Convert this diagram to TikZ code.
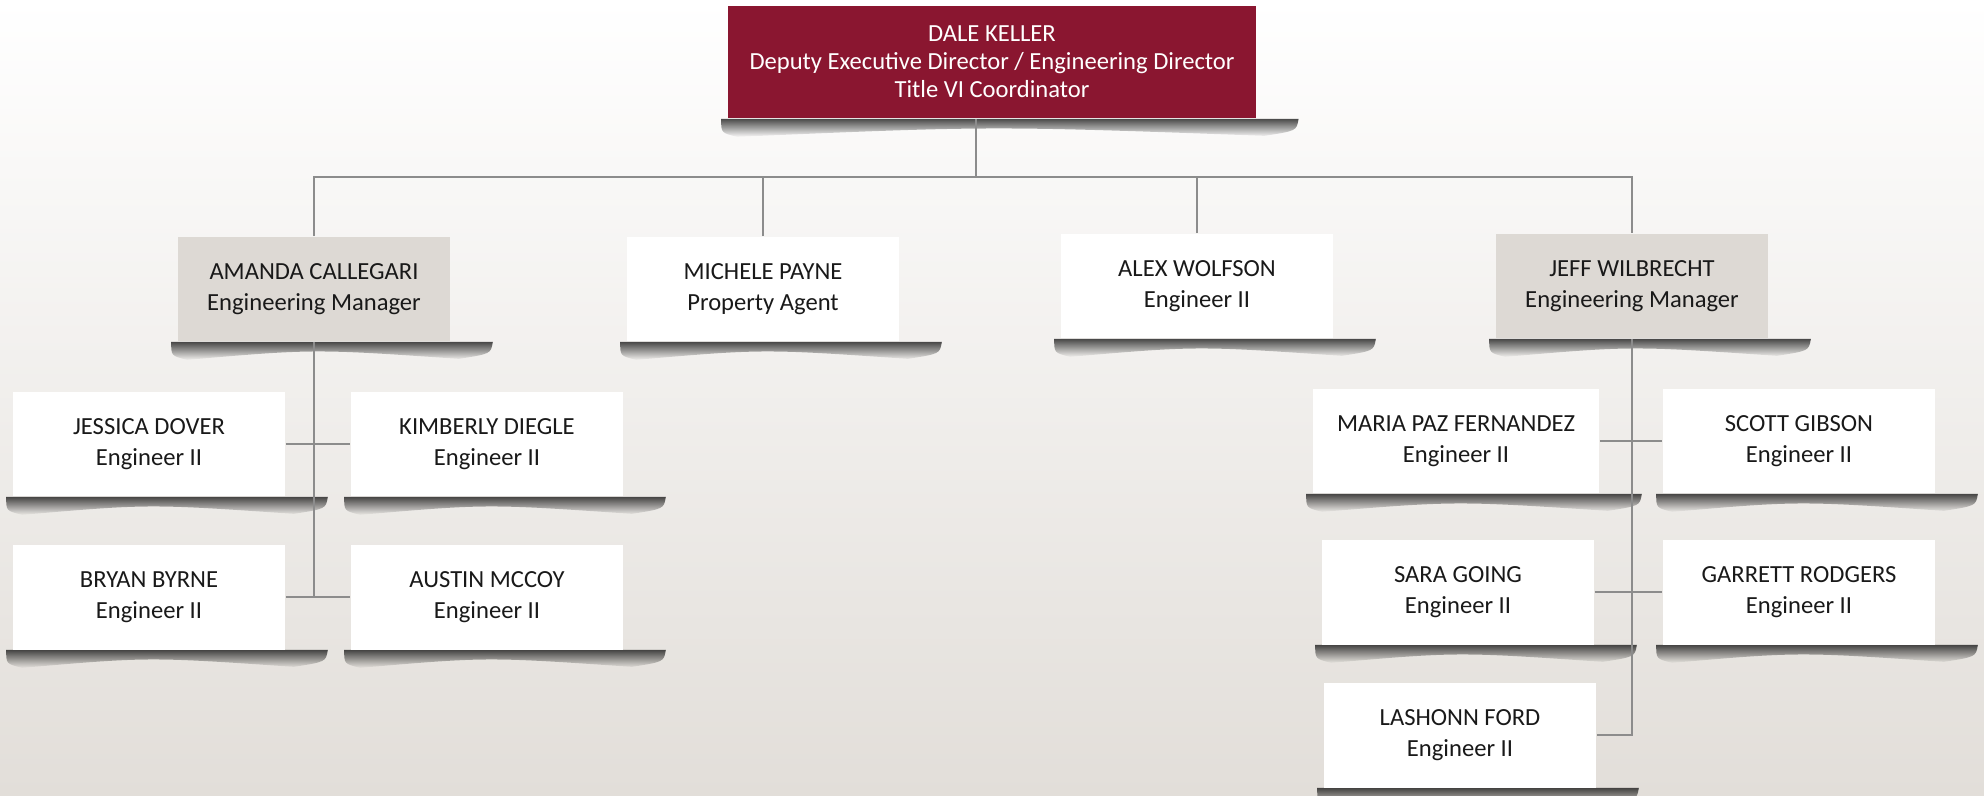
\documentclass[tikz,border=0pt]{standalone}
\usepackage{fontspec}
\setmainfont{Carlito}
\usetikzlibrary{backgrounds,fadings,calc}
\definecolor{maroon}{RGB}{138,22,48}
\definecolor{mgrgray}{RGB}{221,217,212}
\definecolor{linkgray}{RGB}{140,140,140}
\definecolor{bgbottom}{RGB}{226,222,217}
\tikzfading[name=shadowfade, top color=transparent!30, bottom color=transparent!100]

\begin{document}
\begin{tikzpicture}[x=0.02cm, y=-0.02cm,
  every node/.style={font=\fontsize{14}{17.5}\selectfont, align=center, inner sep=0pt, text=black!90},
  staff/.style={rectangle, fill=white, minimum width=5.46cm, minimum height=2.1cm},
  manager/.style={staff, fill=mgrgray},
  director/.style={rectangle, fill=maroon, text=white, minimum width=10.58cm, minimum height=2.26cm,
    font=\fontsize{14}{16}\selectfont},
  link/.style={draw=linkgray, line width=1.3pt}]
  \useasboundingbox (0,0) rectangle (1984,795);

  % Nodes
  \node[director] (dale) at (992,62) {DALE KELLER\\Deputy Executive Director / Engineering Director\\Title VI Coordinator};
  \node[manager] (amanda) at (314,289) {AMANDA CALLEGARI\\Engineering Manager};
  \node[staff] (michele) at (763,289) {MICHELE PAYNE\\Property Agent};
  \node[staff] (alex) at (1197,286) {ALEX WOLFSON\\Engineer II};
  \node[manager] (jeff) at (1632,286) {JEFF WILBRECHT\\Engineering Manager};
  \node[staff] (jessica) at (149,444) {JESSICA DOVER\\Engineer II};
  \node[staff] (kimberly) at (487,444) {KIMBERLY DIEGLE\\Engineer II};
  \node[staff] (bryan) at (149,597) {BRYAN BYRNE\\Engineer II};
  \node[staff] (austin) at (487,597) {AUSTIN MCCOY\\Engineer II};
  \node[staff, minimum width=5.74cm] (maria) at (1456,441) {MARIA PAZ FERNANDEZ\\Engineer II};
  \node[staff] (scott) at (1799,441) {SCOTT GIBSON\\Engineer II};
  \node[staff] (sara) at (1458,592) {SARA GOING\\Engineer II};
  \node[staff] (garrett) at (1799,592) {GARRETT RODGERS\\Engineer II};
  \node[staff] (lashonn) at (1460,735) {LASHONN FORD\\Engineer II};

  % Edges
  \coordinate (hub) at (976,177);
  \draw[link] (dale.south -| hub) -- (hub);
  \draw[link] (amanda.north) |- (hub) -| (jeff.north);
  \foreach \n in {michele,alex}
    \draw[link] (\n.north) -- (\n.north |- hub);
  \draw[link] (amanda.south) -- (amanda.south |- bryan.east);
  \draw[link] (jeff.south) |- (lashonn.east);
  \foreach \a/\b in {jessica/kimberly, bryan/austin, maria/scott, sara/garrett}
    \draw[link] (\a.east) -- (\b.west);

  % Background and shadows
  \begin{scope}[on background layer]
    \shade[top color=white, bottom color=bgbottom] (0,0) rectangle (1984,795);
    \foreach \n in {dale,amanda,michele,alex,jeff,jessica,kimberly,bryan,austin,maria,scott,sara,garrett,lashonn}
      \fill[black, path fading=shadowfade]
        ($(\n.south west)+(-6,0)$) -- ($(\n.south east)+(42,0)$)
        .. controls ($(\n.south east)+(40,12)$) .. ($(\n.south east)+(8,17)$)
        .. controls ($(\n.south)+(0,7)$) .. ($(\n.south west)+(10,18)$)
        .. controls ($(\n.south west)+(-6,14)$) .. cycle;
  \end{scope}
\end{tikzpicture}
\end{document}
